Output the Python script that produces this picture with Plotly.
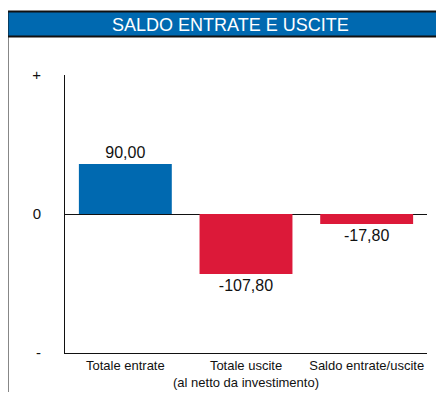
import plotly.graph_objects as go

categories = ["Totale entrate", "Totale uscite<br>(al netto da investimento)", "Saldo entrate/uscite"]
values = [90.00, -107.80, -17.80]
bar_colors = ["#0069B0", "#DC1939", "#DC1939"]
y_tick_vals = [250, 0, -250]
y_tick_text = ["+", "0", "-"]
title_text = "SALDO ENTRATE E USCITE"

FONT = "Liberation Sans, Arial, sans-serif"

labels = [f"{v:.2f}".replace(".", ",") for v in values]

fig = go.Figure(go.Bar(
    x=categories, y=values, marker=dict(color=bar_colors, line=dict(width=0)),
    text=labels, textposition="outside", cliponaxis=False,
    outsidetextfont=dict(family=FONT, size=16, color="#111111"),
    hoverinfo="skip",
))

OFF = 8  # page body margin
W, H = 428, 384
L, T = 65 - OFF, 75 - OFF
R, B = W - (427 - OFF), H - (353 - OFF)
pw, ph = W - L - R, H - T - B

def px(x):
    return (x - OFF - L) / pw

def py(y):
    return (H - B - (y - OFF)) / ph

fig.update_layout(
    width=W, height=H,
    margin=dict(l=L, r=R, t=T, b=B, autoexpand=False),
    paper_bgcolor="white", plot_bgcolor="white",
    bargap=0.23, showlegend=False,
    font=dict(family=FONT, color="#111111"),
    xaxis=dict(showline=True, linecolor="#111111", linewidth=1, ticks="",
               tickangle=0, automargin=False,
               tickfont=dict(family=FONT, size=13, color="#111111"), showgrid=False),
    yaxis=dict(range=[-250, 250], tickvals=y_tick_vals, ticktext=y_tick_text,
               showline=True, linecolor="#111111", linewidth=1, ticks="",
               automargin=False,
               showgrid=False, zeroline=True, zerolinecolor="#111111", zerolinewidth=1,
               ticklabelstandoff=20,
               tickfont=dict(family=FONT, size=15, color="#111111")),
    shapes=[
        dict(type="rect", xref="paper", yref="paper",
             x0=px(7.5), x1=px(470), y0=py(11.5), y1=py(36.5),
             fillcolor="#0069B0", line=dict(color="#111111", width=2), layer="above"),
        dict(type="line", xref="paper", yref="paper",
             x0=px(7.5), x1=px(7.5), y0=py(36.5), y1=py(420),
             line=dict(color="#111111", width=2)),
    ],
    annotations=[
        dict(text=title_text, xref="paper", yref="paper", x=px(230), y=py(24.5),
             xanchor="center", yanchor="middle", showarrow=False,
             font=dict(family=FONT, size=18, color="white")),
    ],
)

fig.write_html("out.html")
